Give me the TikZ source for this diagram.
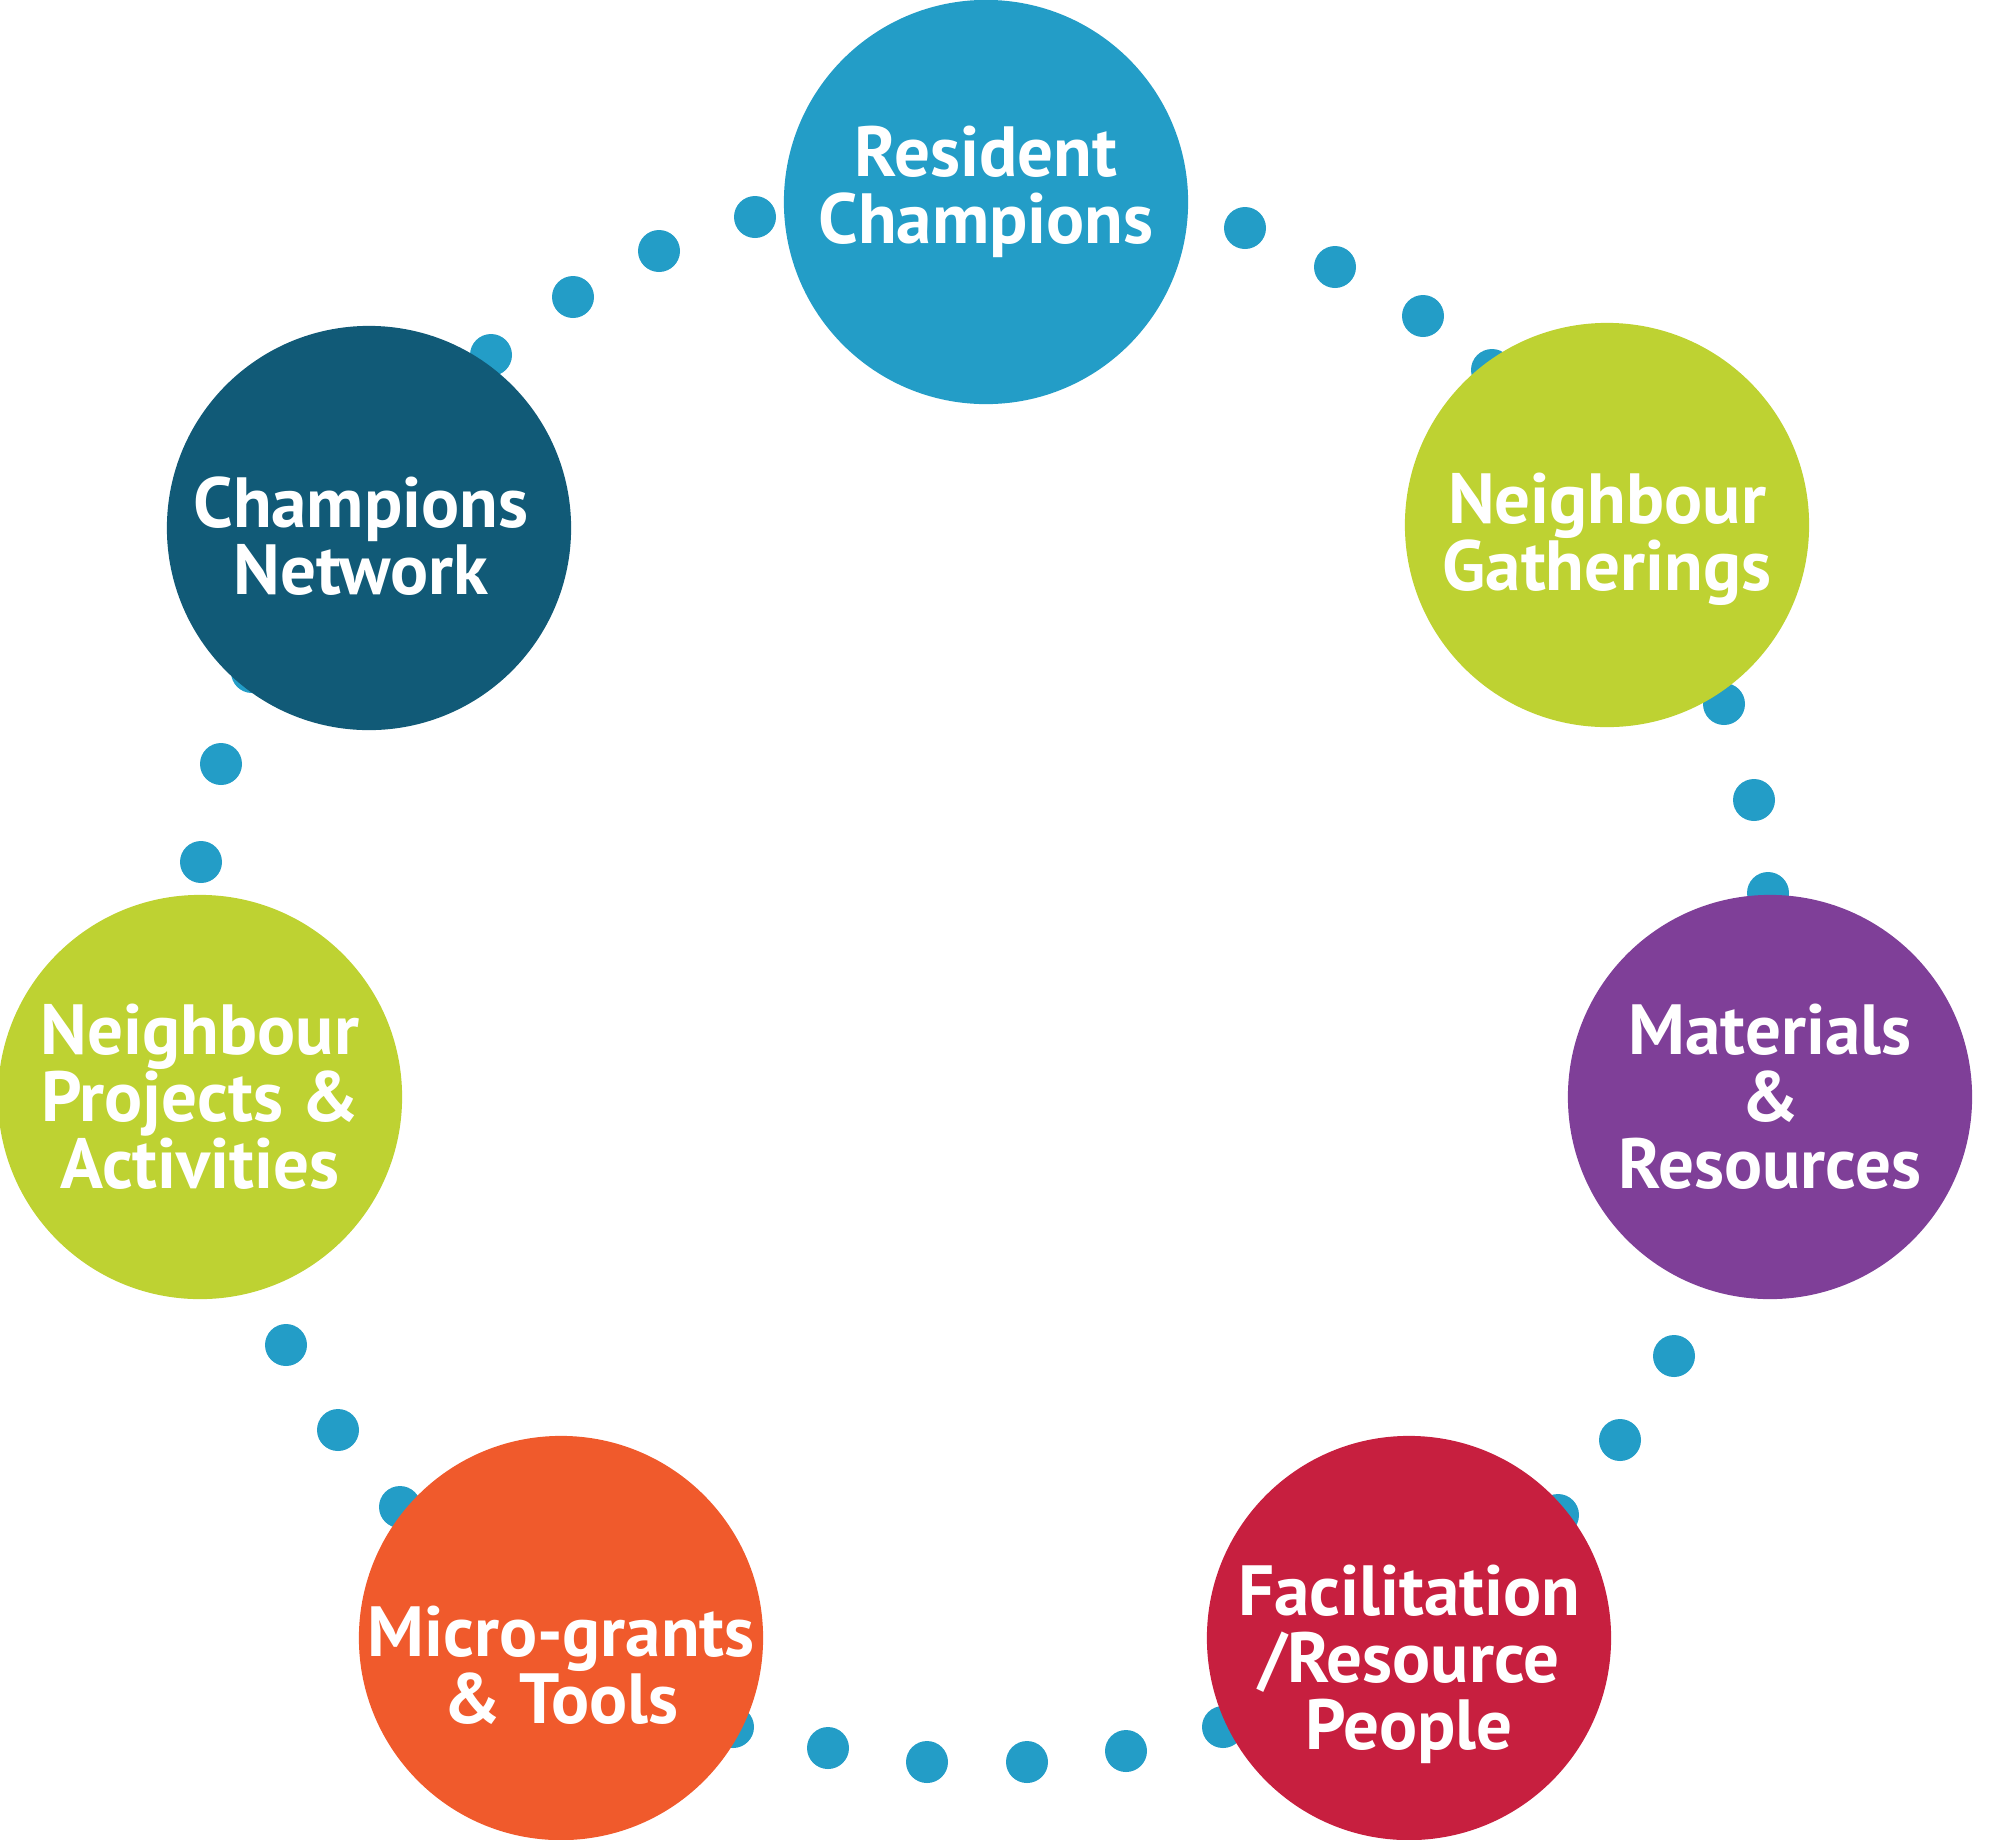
\documentclass[tikz,border=0pt]{standalone}
\usepackage{fontspec}
\setmainfont{PT Sans}
\definecolor{dotblue}{RGB}{35,157,199}
\definecolor{netblue}{RGB}{17,90,119}
\definecolor{lime}{RGB}{190,210,50}
\definecolor{plum}{RGB}{127,63,152}
\definecolor{crimson}{RGB}{199,31,63}
\definecolor{tangerine}{RGB}{240,90,44}
\begin{document}
\begin{tikzpicture} [
   x=0.01cm, y=-0.01cm,
   bub/.style={circle, minimum size=4.04cm, inner sep=0pt},
   txt/.style={text=white, align=center, inner sep=0pt,
               font=\fontsize{20.2}{19}\selectfont\bfseries},
   dot/.style={fill=dotblue}
]
   \useasboundingbox (0,0) rectangle (2000,1839);
   % dotted ring, behind the bubbles
   \foreach \px/\py in {755/217, 659/251, 573/297, 491/355,
                        1245/228, 1335/267, 1423/316, 1492/370,
                        1724/704, 1754/800, 1768/893,
                        1674/1356, 1620/1440, 1558/1515,
                        1223/1727, 1126/1751, 1027/1762, 927/1762, 828/1748, 733/1727,
                        400/1507, 338/1430, 286/1345,
                        201/862, 221/764, 252/672}
      \fill [dot] (\px,\py) circle (21);
   % bubbles
   \node (RC) [bub, fill=dotblue] at (986,202) {};
   \node (NG) [bub, fill=lime] at (1607,525) {};
   \node (MR) [bub, fill=plum] at (1770,1097) {};
   \node (FR) [bub, fill=crimson] at (1409,1638) {};
   \node (MG) [bub, fill=tangerine] at (561,1638) {};
   \node (NP) [bub, fill=lime] at (200,1097) {};
   \node (CN) [bub, fill=netblue] at (369,528) {};
   % labels
   \node (RCt) [txt, yshift=3pt] at (RC) {Resident\\Champions};
   \node (NGt) [txt, yshift=-4pt] at (NG) {Neighbour\\Gatherings};
   \node (MRt) [txt] at (MR) {Materials\\\&\\Resources};
   \node (FRt) [txt, yshift=-7.4pt] at (FR) {Facilitation\\/Resource\\People};
   \node (MGt) [txt, yshift=-7.7pt] at (MG) {Micro-grants\\\& Tools};
   \node (NPt) [txt] at (NP) {Neighbour\\Projects \&\\Activities};
   \node (CNt) [txt, xshift=-2.3pt, yshift=-2.3pt] at (CN) {Champions\\Network};
\end{tikzpicture}
\end{document}
